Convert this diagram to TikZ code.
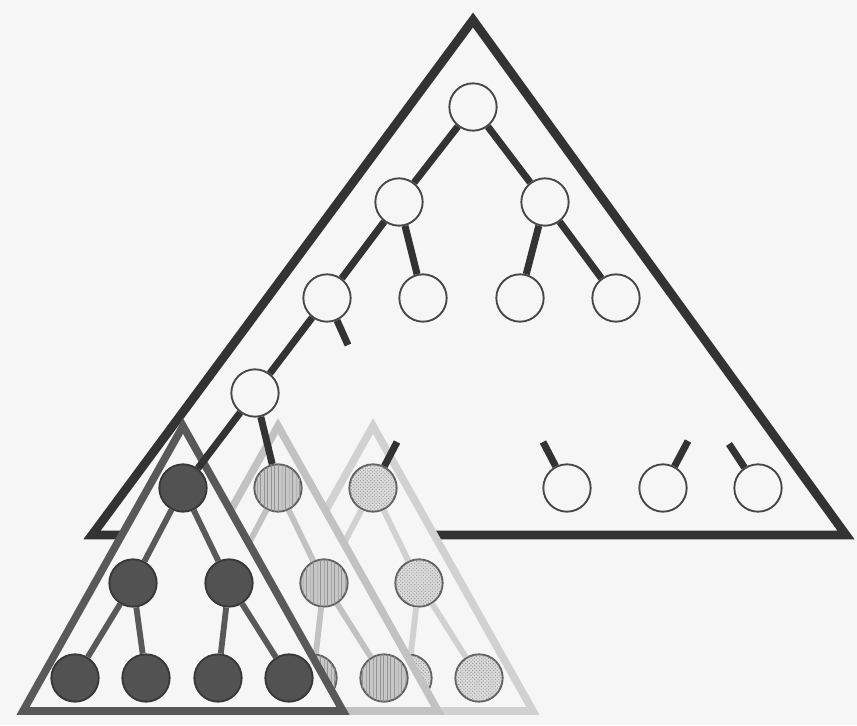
\documentclass[tikz,border=0pt]{standalone}
\usetikzlibrary{patterns}
\definecolor{paper}{RGB}{246,246,246}

\begin{document}
\begin{tikzpicture}[x=0.3mm, y=-0.3mm,
    vtx/.style={circle, draw=black!72, line width=1.6pt, minimum size=14.2mm, inner sep=0pt},
    wnode/.style={vtx, fill=paper},
    dnode/.style={vtx, draw=black!78, fill=black!68},
    hnode/.style={vtx, draw=black!62, fill=black!22, postaction={pattern=vertical lines, pattern color=black!42}},
    pnode/.style={vtx, draw=black!62, fill=black!14, postaction={pattern=crosshatch dots, pattern color=black!45}},
    tri/.style={draw=#1, line width=6.5pt, fill=paper},
    edge/.style={draw=#1, line width=5pt},
    bigtri/.style={draw=black!80, line width=7.5pt, fill=paper},
    bedge/.style={draw=black!80, line width=6pt}]
	\useasboundingbox[fill=paper] (0,0) rectangle (857,725);
	% the whole tree
	\draw[bigtri] (473,20) -- (846,535) -- (92,535) -- cycle;
	\node[wnode] (t) at (473,107) {};
	\node[wnode] (t1) at (399,202) {};
	\node[wnode] (t2) at (545,202) {};
	\node[wnode] (t11) at (327,298) {};
	\node[wnode] (t12) at (423,298) {};
	\node[wnode] (t21) at (520,298) {};
	\node[wnode] (t22) at (616,298) {};
	\node[wnode] (t111) at (255,393) {};
	\node[wnode] (w1) at (567,488) {};
	\node[wnode] (w2) at (663,488) {};
	\node[wnode] (w3) at (758,488) {};
	\coordinate (s11) at (348,345);
	\coordinate (sw1) at (543,442);
	\coordinate (sw2) at (688,441);
	\coordinate (sw3) at (729,444);
	\coordinate (srp) at (397,442);
	\draw[bedge] (t) -- (t1) (t) -- (t2) (t1) -- (t11) (t1) -- (t12) (t2) -- (t21) (t2) -- (t22)
		(t11) -- (t111) (t11) -- (s11) (w1) -- (sw1) (w2) -- (sw2) (w3) -- (sw3);
	% three subtrees, back to front
	\foreach \k/\dx/\lc/\ns in {p/190/black!18/pnode, h/95/black!24/hnode, d/0/black!65/dnode} {
		\begin{scope}[shift={(\dx,0)}]
			\draw[tri=\lc] (183,426) -- (343,711) -- (23,711) -- cycle;
			\node[\ns] (r\k) at (183,488) {};
			\node[\ns] (a\k) at (133,583) {};
			\node[\ns] (b\k) at (229,583) {};
			\node[\ns] (aa\k) at (75,678) {};
			\node[\ns] (ab\k) at (146,678) {};
			\node[\ns] (ba\k) at (218,678) {};
			\node[\ns] (bb\k) at (289,678) {};
			\draw[edge=\lc] (r\k) -- (a\k) (r\k) -- (b\k) (a\k) -- (aa\k) (a\k) -- (ab\k) (b\k) -- (ba\k) (b\k) -- (bb\k);
		\end{scope}
	}
	\draw[bedge] (t111) -- (rd) (t111) -- (rh) (rp) -- (srp);
\end{tikzpicture}
\end{document}
